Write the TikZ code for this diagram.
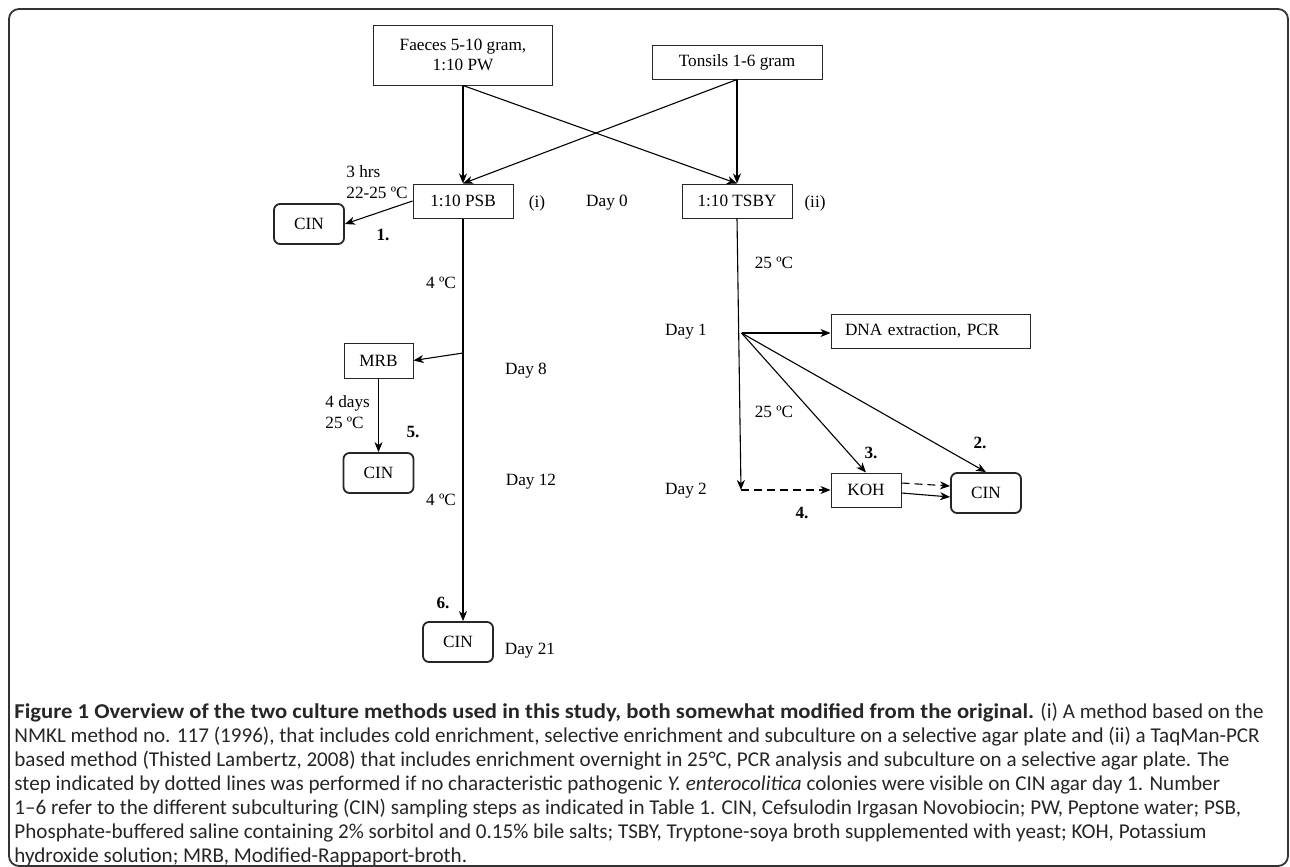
\documentclass[tikz,border=0pt]{standalone}
\usepackage{fontspec}
\setmainfont{Liberation Serif}
\newfontfamily\capfont[BoldFeatures={FakeStretch=1.075}]{Carlito}
\usepackage{tikz}
\usetikzlibrary{arrows.meta,positioning,calc}
\tikzstyle{box}=[draw=black!85,line width=0.5pt,rectangle,inner sep=0pt,minimum height=17pt,font=\fontsize{8.6}{10}\selectfont]
\tikzstyle{cin}=[box,rounded corners=3pt,line width=0.9pt,minimum width=35pt,minimum height=20pt]
\tikzstyle{lbl}=[inner sep=0pt,font=\fontsize{8.6}{10.5}\selectfont]
\tikzstyle{num}=[lbl,font=\fontsize{8.6}{10.5}\selectfont\bfseries]
\tikzstyle{flow}=[-{Stealth[length=5pt,width=4pt,inset=1.5pt]},line width=0.55pt]
\tikzstyle{frame}=[draw=black!80,line width=0.9pt,rounded corners=5pt]
\tikzstyle{caption}=[inner sep=0pt,align=left,text=black!85,font=\capfont\fontsize{10.55}{12}\selectfont]

\begin{document}
\begin{tikzpicture}[x=0.5pt,y=-0.5pt]
\useasboundingbox (0,0) rectangle (1290,867);
\draw [frame] (9,9) rectangle (1288,866);

\node [box, minimum width=89.5pt, minimum height=30pt, align=center] (faeces) at (463,55) {Faeces 5-10 gram,\\1:10 PW};
\node [box, minimum width=85pt] (tonsils) at (737,62) {Tonsils 1-6 gram};
\node [box, minimum width=50pt] (psb) at (463,201) {1:10 PSB};
\node [box, minimum width=55pt] (tsby) at (737,201) {1:10 TSBY};
\node [cin] (cin1) at (309,224) {CIN};
\node [box, minimum width=34.5pt, minimum height=17.5pt] (mrb) at (378.5,360.5) {MRB};
\node [cin] (cin5) at (378.5,473) {CIN};
\node [cin] (cin6) at (458,642) {CIN};
\node [box, minimum width=99.5pt, text width=85.5pt, inner xsep=7pt, align=left] (dna) at (930.5,331) {DNA extraction, PCR};
\node [box, minimum width=35pt] (koh) at (866,490) {KOH};
\node [cin] (cin2) at (986,493) {CIN};

\node [lbl] (meth1) at (537,203) {(i)};
\node [lbl] (day0) at (607,203) {Day 0};
\node [lbl] (meth2) at (815,203) {(ii)};
\node [lbl, anchor=west, align=left] (incub1) at (346,182.5) {3 hrs\\22-25 ºC};
\node [num] (n1) at (383,235) {1.};
\node [lbl] (temp1) at (441,283) {4 ºC};
\node [lbl] (day8) at (526,371) {Day 8};
\node [lbl, anchor=west, align=left] (incub5) at (325,412.5) {4 days\\25 ºC};
\node [num] (n5) at (413,432) {5.};
\node [lbl] (day12) at (531,482) {Day 12};
\node [lbl] (temp2) at (441,500) {4 ºC};
\node [num] (n6) at (443,603) {6.};
\node [lbl] (day21) at (530,651) {Day 21};
\node [lbl] (temp3) at (774,263) {25 ºC};
\node [lbl] (day1) at (686,332) {Day 1};
\node [lbl] (temp4) at (774,412) {25 ºC};
\node [num] (n3) at (871,453) {3.};
\node [num] (n2) at (980,443) {2.};
\node [lbl] (day2) at (686,491) {Day 2};
\node [num] (n4) at (802,513) {4.};

\coordinate (d1) at (741.5,333);
\coordinate (d2) at (741,490);
\coordinate (split) at (463,353);

\draw [flow] (faeces.south) -- (psb.north);
\draw [flow] (faeces.south) -- (tsby.north);
\draw [flow] (tonsils.south) -- (psb.north);
\draw [flow] (tonsils.south) -- (tsby.north);
\draw [flow] (psb.west) -- (cin1.east);
\draw [flow] (psb.south) -- (psb.south |- cin6.north);
\draw [flow] (split) -- (mrb.east);
\draw [flow] (mrb.south) -- (cin5.north);
\draw [flow] (tsby.south) -- (d2);
\draw [flow] (d1) -- (d1 -| dna.west);
\draw [flow] (d1) -- (koh.north);
\draw [flow] (d1) -- (cin2.north);
\draw [flow, dash pattern=on 4pt off 2.5pt] (d2) -- (koh.west);
\draw [flow, dash pattern=on 4pt off 2.5pt] ($(koh.east)+(0,-7)$) -- ($(cin2.west)+(0,-7)$);
\draw [flow] ($(koh.east)+(0,3)$) -- ($(cin2.west)+(0,4)$);

\node [caption, anchor=north west] (cap) at (14,703) {\textbf{Figure 1 Overview of the two culture methods used in this study, both somewhat modified from the original.} (i) A method based on the\\
NMKL method no. 117 (1996), that includes cold enrichment, selective enrichment and subculture on a selective agar plate and (ii) a TaqMan-PCR\\
based method (Thisted Lambertz, 2008) that includes enrichment overnight in 25°C, PCR analysis and subculture on a selective agar plate. The\\
step indicated by dotted lines was performed if no characteristic pathogenic \textit{Y. enterocolitica} colonies were visible on CIN agar day 1. Number\\
1–6 refer to the different subculturing (CIN) sampling steps as indicated in Table 1. CIN, Cefsulodin Irgasan Novobiocin; PW, Peptone water; PSB,\\
Phosphate-buffered saline containing 2\% sorbitol and 0.15\% bile salts; TSBY, Tryptone-soya broth supplemented with yeast; KOH, Potassium\\
hydroxide solution; MRB, Modified-Rappaport-broth.};
\end{tikzpicture}
\end{document}
